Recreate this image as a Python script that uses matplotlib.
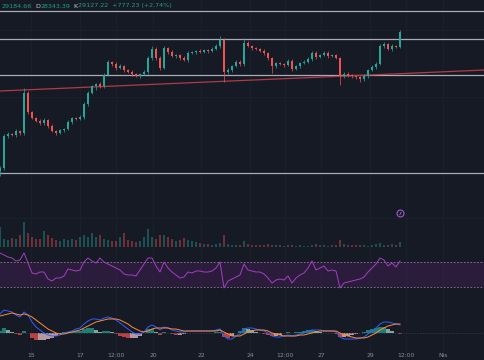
import numpy as np
import matplotlib.pyplot as plt

# hourly closes
close = [25555, 26396, 26449, 26422, 26528, 26475, 27527, 27027, 26870, 26791,
         26738, 26817, 26659, 26528, 26475, 26554, 26580, 26764, 26870, 26843,
         26896, 27238, 27527, 27711, 27764, 27711, 28000, 28342, 28290, 28185,
         28237, 28132, 28079, 28027, 27974, 28027, 28079, 28448, 28684, 28448,
         28185, 28711, 28605, 28500, 28526, 28448, 28395, 28579, 28605, 28632,
         28605, 28658, 28632, 28684, 28763, 28921, 28079, 28132, 28237, 28342,
         28290, 28842, 28763, 28711, 28684, 28632, 28579, 28448, 28237, 28316,
         28290, 28263, 28369, 28158, 28237, 28316, 28342, 28421, 28579, 28474,
         28526, 28579, 28500, 28526, 28448, 27974, 28027, 28000, 27974, 27948,
         27895, 27974, 28132, 28211, 28290, 28763, 28816, 28684, 28763, 28737,
         29127]
first_open = 25480
wick_up = [60, 40, 50, 30, 45, 35, 130, 40, 30, 35,
           50, 45, 30, 40, 25, 35, 30, 40, 35, 30,
           45, 50, 40, 35, 30, 55, 40, 60, 35, 40,
           45, 30, 35, 40, 25, 30, 40, 50, 70, 40,
           45, 60, 35, 40, 30, 35, 50, 40, 35, 30,
           40, 35, 30, 45, 40, 105, 60, 40, 35, 45,
           50, 131, 45, 30, 35, 30, 40, 35, 25, 30,
           35, 30, 45, 40, 30, 35, 40, 45, 50, 40,
           35, 45, 40, 30, 35, 30, 50, 40, 35, 30,
           35, 40, 30, 45, 50, 60, 45, 35, 40, 30,
           57]
wick_dn = [130, 45, 40, 35, 50, 40, 60, 45, 40, 35,
           40, 50, 45, 35, 40, 30, 45, 35, 40, 30,
           35, 40, 45, 35, 100, 40, 50, 35, 40, 45,
           30, 40, 35, 45, 30, 40, 35, 50, 40, 45,
           50, 40, 45, 35, 40, 45, 30, 40, 35, 40,
           30, 35, 40, 30, 35, 40, 263, 40, 45, 35,
           40, 45, 35, 40, 30, 35, 40, 45, 184, 40,
           35, 40, 30, 45, 35, 40, 30, 35, 40, 45,
           30, 35, 40, 35, 30, 237, 40, 60, 50, 55,
           80, 45, 40, 35, 40, 30, 45, 35, 40, 30,
           20]
volume = [20, 8, 7, 9, 8, 12, 25, 14, 10, 8,
          8, 16, 12, 9, 7, 6, 8, 7, 8, 7,
          10, 12, 10, 14, 10, 12, 8, 7, 6, 6,
          10, 14, 7, 6, 5, 6, 10, 18, 10, 8,
          12, 12, 10, 8, 6, 7, 9, 7, 6, 5,
          4, 3, 3, 2, 3, 4, 12, 3, 2, 2,
          2, 6, 3, 2, 2, 2, 2, 3, 2, 2,
          2, 1, 2, 2, 1, 2, 1, 1, 2, 3,
          2, 2, 1, 2, 2, 7, 3, 2, 2, 2,
          2, 2, 1, 2, 3, 4, 2, 2, 3, 2,
          5]
rsi = [84.4, 81.2, 78, 76.4, 71.6, 73.2, 84.4, 68.4, 52.4, 50.8,
       54, 54, 42.8, 39.6, 44.4, 44.4, 47.6, 58.8, 57.2, 55.6,
       57.2, 70, 76.4, 71.6, 68.4, 76.4, 70, 66.8, 63.6, 60.4,
       57.2, 50.8, 49.2, 49.2, 47.6, 57.2, 66.8, 76.4, 76.4, 63.6,
       54, 70, 60.4, 54, 49.2, 44.4, 46, 54, 52.4, 55.6,
       55.6, 54, 54, 55.6, 60.4, 70, 28.4, 39.6, 42.8, 46,
       49.2, 66.8, 57.2, 55.6, 54, 54, 50.8, 44.4, 36.4, 41.2,
       42.8, 41.2, 47.6, 36.4, 44.4, 49.2, 52.4, 60.4, 71.6, 57.2,
       60.4, 63.6, 55.6, 57.2, 55.6, 28.4, 36.4, 38, 39.6, 41.2,
       42.8, 46, 54, 60.4, 66.8, 76.4, 73.2, 63.6, 68.4, 62,
       71.6]
macd = [19, 23, 22, 21, 18, 16, 21, 18, 11, 6,
        3, 0, -2, -3, -3, -2, 0, 1, 2, 4,
        5, 9, 12, 14, 14, 13, 15, 16, 15, 13,
        10, 7, 4, 1, -1, -1, 1, 6, 8, 6,
        3, 6, 5, 3, 2, 1, 1, 2, 2, 2,
        2, 2, 2, 2, 3, 4, -3, -6, -6, -3,
        -1, 4, 5, 5, 4, 3, 2, 0, -3, -4,
        -4, -3, -2, -3, -2, -1, 0, 2, 3, 3,
        3, 2, 2, 2, 1, -4, -6, -6, -6, -6,
        -5, -4, -1, 2, 5, 9, 11, 11, 10, 9,
        8]
signal = [17, 18, 19, 20, 19, 18, 19, 18, 16, 13,
          10, 7, 4, 2, 0, -1, -1, 0, 1, 2,
          3, 5, 7, 9, 11, 12, 13, 14, 14, 14,
          13, 11, 9, 6, 4, 2, 1, 2, 4, 5,
          5, 5, 5, 4, 4, 3, 2, 2, 2, 2,
          2, 2, 2, 2, 2, 3, 1, -1, -3, -3,
          -3, -1, 1, 2, 3, 3, 3, 2, 0, -1,
          -2, -3, -3, -3, -3, -2, -2, -1, 0, 1,
          2, 2, 2, 2, 2, 0, -2, -3, -4, -5,
          -5, -5, -4, -2, 0, 3, 5, 7, 8, 9,
          9]
levels = [29684, 28947, 28000, 25423]
trend = [27580, 28132]
tick_pos = [7.75, 20, 29, 38.25, 50.25, 62.5, 71.25, 80.25, 92.5, 101.5, 110.75]
tick_labels = ['15', '17', '12:00', '20', '22', '24', '12:00', '27', '29', '12:00', 'Nis']
header = [('29184.66', 'g'), ('D', 'w'), ('28343.39', 'g'), ('K', 'w'),
          ('29127.22  +777.23 (+2.74%)', 'g')]

BG = '#161a25'
UP = '#26a69a'
DN = '#ef5350'
GRID = '#1d212d'

close = np.array(close, float)
opn = np.concatenate([[first_open], close[:-1]])
hi = np.maximum(opn, close) + np.array(wick_up)
lo = np.minimum(opn, close) - np.array(wick_dn)
x = np.arange(len(close))
up = close >= opn
col = np.where(up, UP, DN)
XMAX = 121.25

fig = plt.figure(figsize=(4.85, 3.6), dpi=100, facecolor=BG)


def pane(top, bot):
    a = fig.add_axes([0, 1 - bot / 360, 1, (bot - top) / 360])
    a.set_facecolor(BG)
    a.set_xlim(0, XMAX)
    a.set_xticks([])
    a.set_yticks([])
    for s in a.spines.values():
        s.set_visible(False)
    for t in tick_pos:
        a.axvline(t, color=GRID, lw=0.6, zorder=0)
    return a


# price pane
ax = pane(0, 205)
ax.set_ylim(24581, 29973)
for g in [29184, 27422]:
    ax.axhline(g, color=GRID, lw=0.6, zorder=0)
for lv in levels:
    ax.axhline(lv, color='#a9acb4', lw=0.9, zorder=1)
ax.plot([0, XMAX], trend, color='#b23a48', lw=0.9, zorder=2)
ax.vlines(x, lo, hi, colors=col, lw=0.5, zorder=3)
ax.bar(x, np.maximum(np.abs(close - opn), 8), bottom=np.minimum(opn, close),
       width=0.5, color=col, linewidth=0, zorder=4)

# header text, each piece chained to the previous one
prev = ax.text(2 / 485, 1 - 6 / 205, header[0][0], transform=ax.transAxes,
               color='#1f9c8c', fontsize=4.6, va='center', ha='left')
for s, c in header[1:]:
    prev = ax.annotate(s, xy=(1, 0), xycoords=prev, xytext=(1.8 if c == 'w' else 0.6, 0),
                       textcoords='offset points', va='bottom', ha='left',
                       color='#1f9c8c' if c == 'g' else '#c8cad0', fontsize=4.6)

# volume pane
av = pane(205, 247)
av.set_ylim(0, 42)
av.axhline(29, color=GRID, lw=0.6, zorder=0)
av.bar(x, volume, width=0.45, color=col, alpha=0.4, linewidth=0)
av.plot([100], [34], 'o', ms=5, mfc='none', mec='#9a5fc8', mew=0.8)
av.plot([100], [34], marker=(2, 0, -30), ms=2.5, color='#9a5fc8', mew=0.7)

# RSI pane
ar = pane(247, 297)
ar.set_ylim(14, 94)
ar.axhspan(30, 70, color='#9c27b0', alpha=0.16, lw=0)
ar.axhline(70, color='#8a7d96', lw=0.6, ls=(0, (2, 2)))
ar.axhline(30, color='#8a7d96', lw=0.6, ls=(0, (2, 2)))
ar.plot(x, rsi, color='#a43fc4', lw=0.7)

# MACD pane
am = pane(297, 345)
am.set_ylim(-12, 36)
macd = np.array(macd, float)
signal = np.array(signal, float)
hist = macd - signal
prevh = np.concatenate([[0], hist[:-1]])
hcol = []
for h, p in zip(hist, prevh):
    if h >= 0:
        hcol.append('#26a69a' if h >= p else '#b2dfdb')
    else:
        hcol.append('#ff5252' if h < p else '#ffcdd2')
am.bar(x, hist, width=0.8, color=hcol, alpha=0.7, linewidth=0)
am.axhline(0, color='#3a3e4a', lw=0.5, ls=(0, (2, 2)))
am.plot(x, macd, color='#2962ff', lw=0.7)
am.plot(x, signal, color='#ff8a3d', lw=0.7)

# time labels
ab = pane(345, 360)
ab.set_ylim(0, 1)
for p, lab in zip(tick_pos, tick_labels):
    ab.text(p, 0.3, lab, color='#8a8e99', fontsize=4.3, ha='center', va='center')

fig.savefig('out.png', dpi=100, facecolor=BG)
